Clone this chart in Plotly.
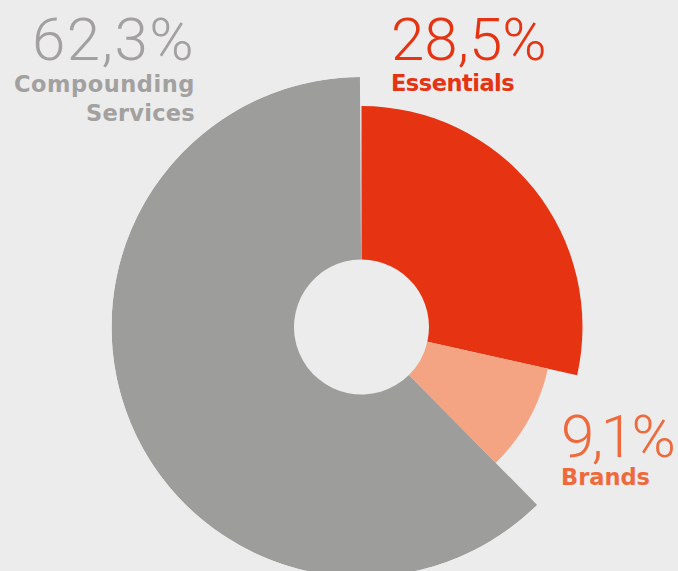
import plotly.graph_objects as go

# ---- data ----
segments = ["Essentials", "Brands", "Compounding Services"]
shares = [28.5, 9.1, 62.3]            # percent
outer_radius = [221, 191, 250]          # relative slice radius
inner_radius = 67.5
pct_labels = ["28,5%", "9,1%", "62,3%"]
name_lines = [["Essentials"], ["Brands"], ["Compounding", "Services"]]

slice_colors = ["#E63312", "#F4A482", "#9D9D9C"]
text_colors = ["#E63312", "#EE6A3D", "#A2A19F"]
BG = "#ECECEC"

# angular geometry from shares
widths = [s * 3.6 for s in shares]
centers = []
acc = 0.0
for w in widths:
    centers.append(acc + w / 2)
    acc += w

W, H = 678, 577          # figure a bit taller than the window; bottom is cut like the original
R_PX = 250               # polar radius in pixels
CX, CY = 361.5, 327      # centre from top-left

fig = go.Figure()
fig.add_trace(go.Barpolar(
    theta=centers,
    width=widths,
    r=[o - inner_radius for o in outer_radius],
    base=[inner_radius] * len(shares),
    marker=dict(color=slice_colors, line=dict(width=0)),
    hoverinfo="skip",
))

fig.update_layout(
    width=W, height=H,
    margin=dict(l=0, r=0, t=0, b=0),
    paper_bgcolor=BG, plot_bgcolor=BG,
    showlegend=False,
    polar=dict(
        domain=dict(x=[(CX - R_PX) / W, (CX + R_PX) / W],
                    y=[1 - (CY + R_PX) / H, 1 - (CY - R_PX) / H]),
        bgcolor=BG,
        bargap=0,
        radialaxis=dict(range=[0, R_PX], visible=False, showgrid=False),
        angularaxis=dict(direction="clockwise", rotation=90, visible=False,
                         showgrid=False),
    ),
)

FONT = "DejaVu Sans"
NUM_FONT = "Roboto"

def ann(text, x, y, xanchor, yanchor, color, size, weight, family, spacing):
    fig.add_annotation(
        x=x / W, y=1 - y / H, xref="paper", yref="paper",
        xanchor=xanchor, yanchor=yanchor, showarrow=False,
        text=f'<span style="letter-spacing:{spacing}px">{text}</span>',
        font=dict(family=family, size=size, color=color, weight=weight),
    )

# label layout: (x, number y(bottom), number spacing, [label line tops], [line spacing], anchor)
label_layout = [
    (389, 77, 0, [68], [-0.5], "left"),
    (559, 474, -2.5, [462], [0], "left"),
    (197, 77, 1.5, [69, 98], [0.55, 0.25], "right"),
]

for i, (x, yn, nsp, ytops, lsps, anchor) in enumerate(label_layout):
    ann(pct_labels[i], x, yn, anchor, "bottom", text_colors[i], 60, 300, NUM_FONT, nsp)
    for line, yt, sp in zip(name_lines[i], ytops, lsps):
        ann(line, x, yt, anchor, "top", text_colors[i], 22.5, 700, FONT, sp)

fig.write_html(
    "out.html",
    config={"displayModeBar": False},
    post_script="document.body.style.margin='0px';document.body.style.overflow='hidden';",
)
